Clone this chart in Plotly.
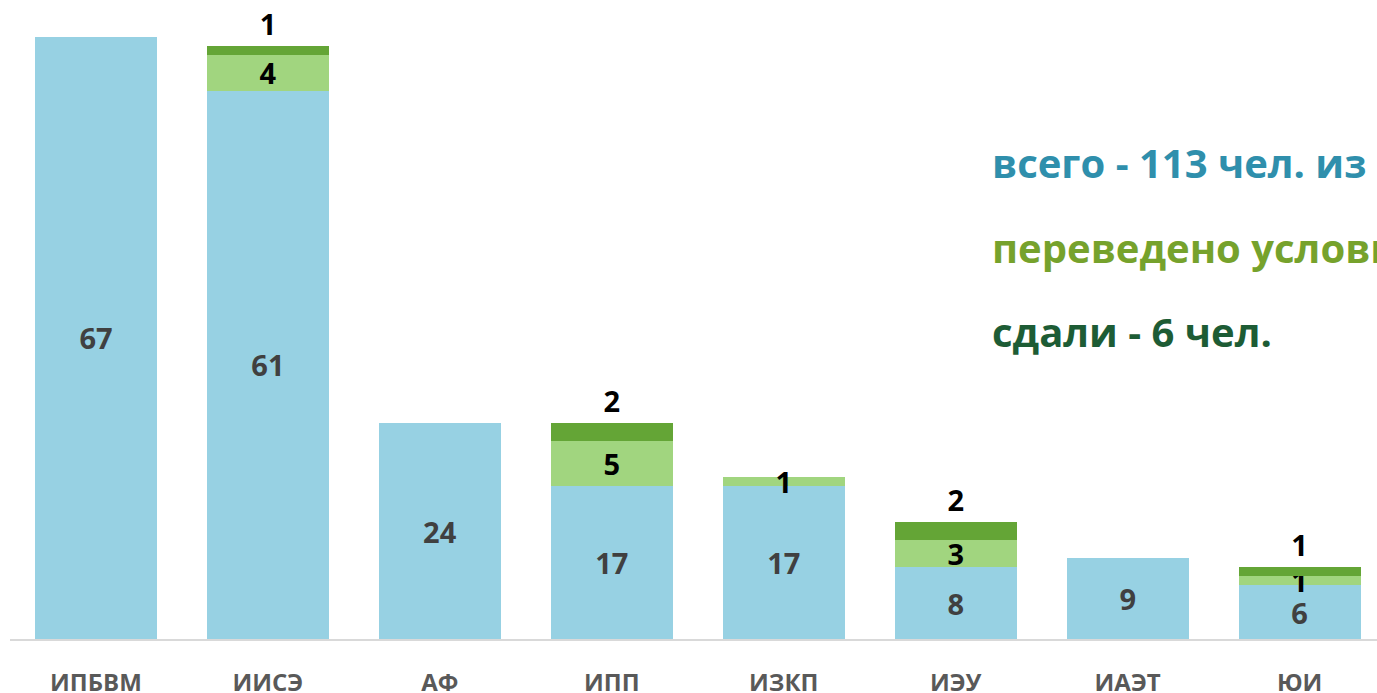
import plotly.graph_objects as go

categories = ["ИПБВМ", "ИИСЭ", "АФ", "ИПП", "ИЗКП", "ИЭУ", "ИАЭТ", "ЮИ"]
total_debtors = [67, 61, 24, 17, 17, 8, 9, 6]
conditionally = [None, 4, None, 5, 1, 3, None, 1]
passed = [None, 1, None, 2, None, 2, None, 1]

summary_lines = [
    ("всего - 113 чел. из", "#2f8fac"),
    ("переведено условно", "#76a22c"),
    ("сдали - 6 чел.", "#1d5c35"),
]

FONT = "Open Sans"
BLUE = "#97d1e3"
LIGHT = "#a1d57f"
DARK = "#64a536"

H = 693
PLOT_H = 639

fig = go.Figure()
fig.add_trace(go.Bar(
    x=categories, y=total_debtors, marker=dict(color=BLUE, line=dict(width=0)),
    text=[str(v) for v in total_debtors], textposition="inside", insidetextanchor="middle",
    textangle=0,
    textfont=dict(family=FONT, size=29, color="#404040", weight="bold"),
    constraintext="none", hoverinfo="skip",
))
fig.add_trace(go.Bar(
    x=categories, y=conditionally, marker=dict(color=LIGHT, line=dict(width=0)),
    text=["" if v is None else str(v) for v in conditionally], textposition="inside",
    insidetextanchor="middle", textangle=0,
    textfont=dict(family=FONT, size=29, color="#000000", weight="bold"),
    constraintext="none", hoverinfo="skip",
))
fig.add_trace(go.Bar(
    x=categories, y=passed, marker=dict(color=DARK, line=dict(width=0)),
    text=["" if v is None else str(v) for v in passed], textposition="outside",
    textangle=0,
    textfont=dict(family=FONT, size=29, color="#000000", weight="bold"),
    constraintext="none", cliponaxis=False, hoverinfo="skip",
))

for i, (txt, col) in enumerate(summary_lines):
    fig.add_annotation(
        text=txt, xref="paper", yref="paper", x=(990 - 10) / 1367,
        y=(PLOT_H - 162 - 85 * i) / PLOT_H,
        xanchor="left", yanchor="middle", showarrow=False,
        font=dict(family=FONT, size=40, color=col, weight="bold"),
    )

fig.update_layout(
    width=1377, height=H,
    margin=dict(l=10, r=0, t=0, b=H - PLOT_H),
    barmode="stack", bargap=0.29,
    plot_bgcolor="white", paper_bgcolor="white",
    showlegend=False,
)
fig.update_xaxes(
    range=[-0.5, 7.45], showline=True, linecolor="#d9d9d9", linewidth=2,
    showgrid=False, ticks="", ticklabelstandoff=21, automargin=False,
    tickfont=dict(family=FONT, size=24, color="#595959", weight="bold"),
)
fig.update_yaxes(range=[0, 71.1], visible=False, showgrid=False, automargin=False)

post = (
    "document.documentElement.style.overflow='hidden';"
    "document.body.style.margin='0';"
    "document.body.style.overflow='hidden';"
)
fig.write_html("out.html", config={"displayModeBar": False}, post_script=post)
